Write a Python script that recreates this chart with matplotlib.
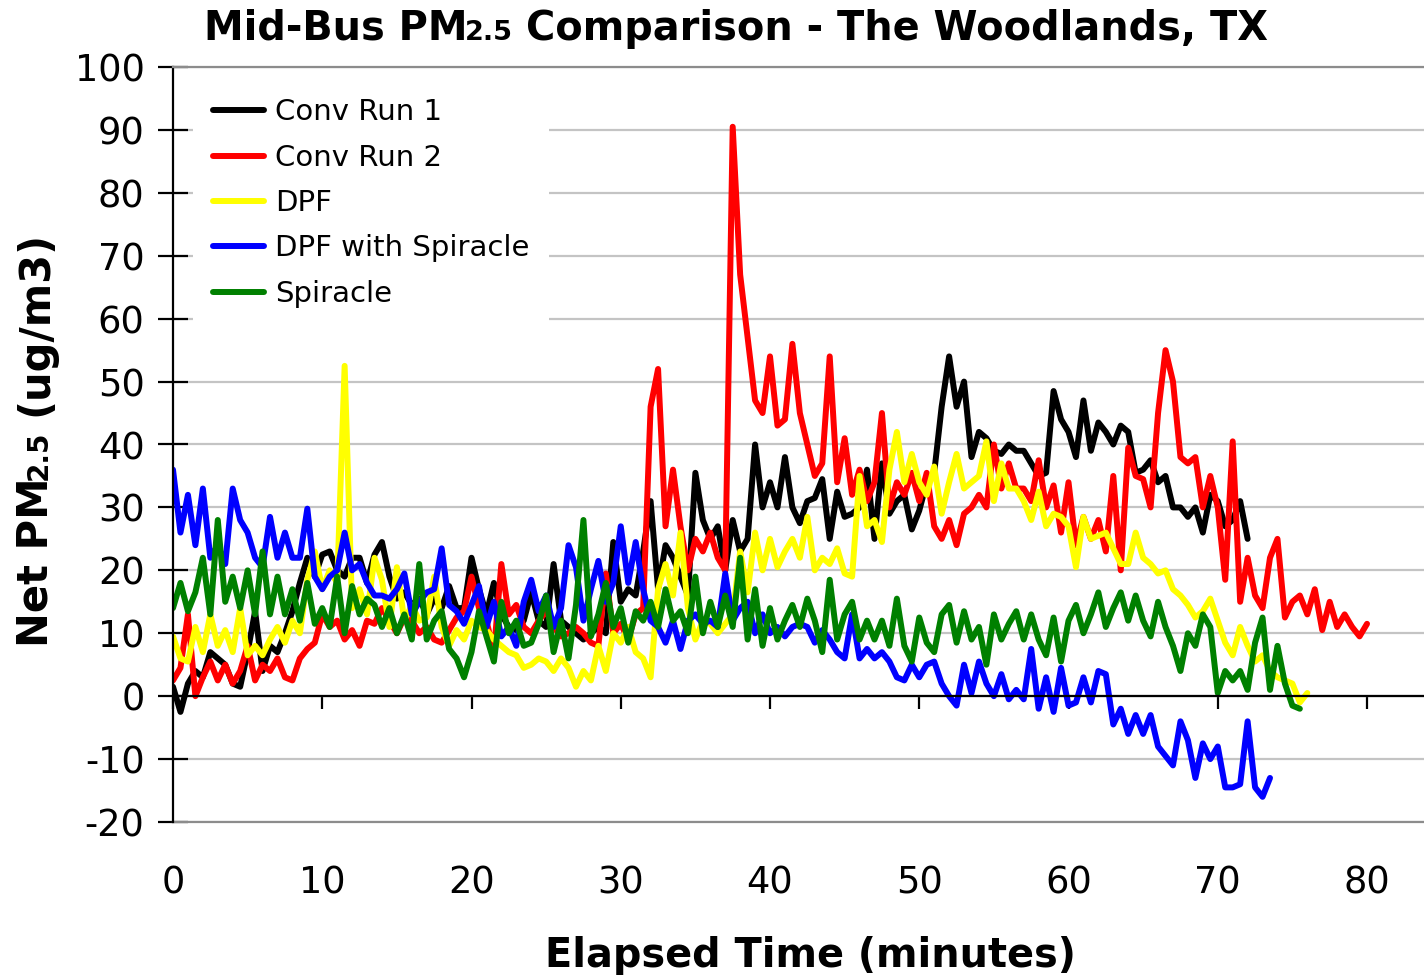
import numpy as np
import matplotlib
matplotlib.use("Agg")
import matplotlib.pyplot as plt
from matplotlib.transforms import IdentityTransform

plt.rcParams["axes.unicode_minus"] = False

# ---------------- data (sampled every 0.5 minute) ----------------
step_min = 0.5

conv_run1 = [1.5, -2.5, 2, 4, 3, 7, 6, 5, 2, 1.5, 7, 13.5, 4, 8, 7, 10, 13.5, 18, 22, 19,
             22.5, 23, 20, 19, 22, 22, 18, 22.5, 24.5, 19, 15.5, 16.5, 14.5, 15.5, 13, 15.5, 14, 17.5, 14, 14,
             22, 17, 13, 18, 13, 11, 10.5, 12, 16.5, 12, 11, 21, 12, 11, 10, 9, 10, 11, 10, 24.5,
             15, 17, 16, 23, 31, 17, 24, 22, 19, 16, 35.5, 28, 25, 27, 20, 28, 23, 25, 40, 30,
             34, 30, 38, 30, 27.5, 31, 31.5, 34.5, 25, 32.5, 28.5, 29, 30, 36, 25, 37, 29, 31, 32, 26.5,
             29.5, 34, 35.5, 46, 54, 46, 50, 38, 42, 41, 39, 38.5, 40, 39, 39, 37, 35, 35.5, 48.5, 44,
             42, 38, 47, 39, 43.5, 42, 40, 43, 42, 35.5, 36, 37.5, 34, 35, 30, 30, 28.5, 30, 26, 32,
             31, 27, 28, 31, 25]

conv_run2 = [2.5, 4.5, 13, 0, 3, 5.5, 2.5, 5, 2, 4, 8, 2.5, 5, 4, 6, 3, 2.5, 6, 7.5, 8.5,
             13, 11, 12, 9, 10.5, 8, 12, 11.5, 14, 12, 10, 12.5, 12, 10, 11, 9, 8.5, 10.5, 12.5, 13.5,
             19, 14, 12, 7, 21, 13, 14.5, 11, 10, 12, 13.5, 11, 9.5, 10, 11, 10, 8.5, 8, 19.5, 10,
             11.5, 9, 13, 14, 46, 52, 27, 36, 27, 20, 25, 23, 26, 22, 20, 90.5, 67, 57, 47, 45,
             54, 43, 44, 56, 45, 40, 35, 37, 54, 34, 41, 32, 36, 31, 34, 45, 30, 34, 32, 35.5,
             31, 35.5, 27, 25, 28, 24, 29, 30, 32, 30, 40, 33, 37, 33, 33, 31, 37.5, 30, 33.5, 26,
             34, 24, 28.5, 25, 28, 23, 35, 20, 39.5, 35, 34.5, 30, 45, 55, 50, 38, 37, 38, 30, 35,
             30, 18.5, 40.5, 15, 22, 16, 14, 22, 25, 12.5, 15, 16, 13, 17, 10.5, 15, 11, 13, 11, 9.5,
             11.5]

dpf = [9.5, 6, 5.5, 11, 7, 13, 8, 10.5, 7, 14, 6.5, 8, 6.5, 9, 11, 8.5, 12, 10, 18.5, 23,
       17, 20, 18, 52.5, 14, 17, 13, 22, 18.5, 11, 20.5, 12, 14.5, 12, 12.5, 19, 11, 8, 10.5, 9,
       12, 11, 10.5, 9, 8, 7, 6.5, 4.5, 5, 6, 5.5, 4, 6, 4.5, 1.5, 4, 2.5, 8, 4, 10,
       8.5, 11, 7, 6, 3, 17, 21, 16, 26, 14, 9, 12, 11.5, 10, 11.5, 13, 23, 16.5, 26, 20,
       25, 20.5, 23, 25, 22, 28.5, 20, 22, 21, 23.5, 19.5, 19, 35, 27, 28, 24.5, 36, 42, 34, 38.5,
       34, 32, 36.5, 29, 34, 38.5, 33, 34, 35, 40.5, 31, 37, 33, 33, 31, 28, 32.5, 27, 29, 28.5,
       27, 20.5, 28.5, 25, 25.5, 26, 23.5, 21, 21, 26, 22, 21, 19.5, 20, 17, 16, 14.5, 12.5, 13.5, 15.5,
       12, 8.5, 6.5, 11, 8, 5.5, 6.5, 4, 3, 2.5, 2, -1, 0.5]

dpf_spiracle = [36, 26, 32, 24, 33, 22, 24, 21, 33, 28, 26, 22, 20.5, 28.5, 22, 26, 22, 22, 29.8, 19,
                17, 19, 20, 26, 20, 21, 18, 16, 16, 15.5, 17, 19.5, 13, 15, 16.5, 17, 23.5, 14.5, 13.5, 11.5,
                14.5, 17.5, 11, 15, 9.5, 11, 8, 15, 18.5, 13.5, 16, 11, 14, 24, 20.5, 12, 17, 21.5, 15, 18,
                27, 18, 24.5, 17, 12, 11, 8.5, 12, 7.5, 12, 13, 11.5, 12, 11, 19.5, 12, 14, 15, 10, 13,
                10, 11, 9.5, 11, 11.5, 11, 8.5, 10.5, 9, 7, 6, 13, 6, 7.5, 6, 7, 5.5, 3, 2.5, 5,
                3, 5, 5.5, 2, 0, -1.5, 5, 0.5, 5.5, 2, 0, 3.5, -0.5, 1, -0.5, 7.5, -2, 3, -2.5, 4.5,
                -1.5, -1, 3, -1, 4, 3.5, -4.5, -2, -6, -3, -6, -3, -8, -9.5, -11, -4, -7, -13, -7.5, -10,
                -8, -14.5, -14.5, -14, -4, -14.5, -16, -13]

spiracle = [14, 18, 13.5, 16.5, 22, 13, 28, 15, 19, 14, 20, 13, 23, 13, 19, 13, 17, 12, 18, 11.5,
            14, 11, 19, 10, 17.5, 13, 15.5, 14.5, 11, 14, 10, 13, 9, 21, 9, 12, 13.5, 7.5, 6, 3,
            7, 13.5, 9.5, 5.5, 15, 10, 12, 8, 8.5, 11.5, 16, 7, 12, 6, 14.5, 28, 9.5, 13, 18, 11,
            14, 8.5, 13.5, 12, 15, 11, 17, 12, 13.5, 10, 19, 10, 15, 11, 16, 11, 22, 9, 17, 8,
            14, 9, 12, 14.5, 11, 15.5, 12, 7, 18.5, 9, 13, 15, 9, 12, 9, 12, 8, 15.5, 8, 5.5,
            12.5, 8.5, 7, 13, 14.5, 8.5, 13.5, 9, 11, 5, 13, 9, 11.5, 13.5, 9, 13, 9, 6.5, 12.5, 5.5,
            12, 14.5, 10, 13, 16.5, 11, 14, 16.5, 12, 16, 12, 9.5, 15, 11, 8, 4, 10, 8, 13, 11,
            0.5, 4, 2.5, 4, 1, 8.5, 12.5, 1, 8, 2, -1.5, -2]

series_labels = ["Conv Run 1", "Conv Run 2", "DPF", "DPF with Spiracle", "Spiracle"]
series_values = [conv_run1, conv_run2, dpf, dpf_spiracle, spiracle]
series_colors = ["#000000", "#FF0000", "#FFFF00", "#0000FF", "#008000"]

x_ticks = list(range(0, 81, 10))
y_ticks = list(range(-20, 101, 10))

title_parts = ["Mid-Bus PM", "2.5", "Comparison - The Woodlands, TX"]
ylabel_parts = ["Net PM", "2.5", "(ug/m3)"]
xlabel_text = "Elapsed Time (minutes)"

# ---------------- figure ----------------
W, H = 1424, 975
fig = plt.figure(figsize=(W / 100, H / 100), dpi=100)
fig.patch.set_facecolor("white")

ax_left, ax_right, ax_top, ax_bottom = 173, W, 67, 822
ax = fig.add_axes([ax_left / W, 1 - ax_bottom / H, (ax_right - ax_left) / W, (ax_bottom - ax_top) / H])

for lab, vals, col in zip(series_labels, series_values, series_colors):
    t = np.arange(len(vals)) * step_min
    ax.plot(t, vals, color=col, lw=4.3, label=lab,
            solid_joinstyle="round", solid_capstyle="round")

px_per_min = 14.93
ax.set_xlim(0, (W - 172.6) / px_per_min)
ax.set_ylim(-20, 100)
ax.set_xticks(x_ticks)
ax.set_yticks(y_ticks)

ax.yaxis.grid(True, color="#c4c4c4", lw=1.6)
ax.set_axisbelow(True)

ax.spines["right"].set_visible(False)
ax.spines["top"].set_color("#8c8c8c")
ax.spines["top"].set_linewidth(1.6)
ax.spines["left"].set_color("black")
ax.spines["left"].set_linewidth(1.6)
ax.spines["bottom"].set_position(("data", 0))
ax.spines["bottom"].set_color("black")
ax.spines["bottom"].set_linewidth(1.6)
ax.axhline(-20, color="#8c8c8c", lw=1.6, zorder=0.6, clip_on=False)

ax.tick_params(axis="y", direction="inout", length=21, width=1.6,
               labelsize=26.5, pad=10, colors="black")
ax.tick_params(axis="x", direction="out", length=9.4, width=1.6,
               labelsize=26.5, pad=112, colors="black")

leg = ax.legend(loc="upper left",
                bbox_to_anchor=((193 - ax_left) / (ax_right - ax_left),
                                (ax_bottom - 78) / (ax_bottom - ax_top)),
                borderaxespad=0, fontsize=21, frameon=True, fancybox=False,
                edgecolor="none", facecolor="white", framealpha=1,
                borderpad=0.7, handlelength=1.72, handletextpad=0.38,
                labelspacing=0.595)

# ---------------- composed texts (subscripted PM2.5) ----------------
renderer = fig.canvas.get_renderer()


def compose_horizontal(parts, sizes, gaps, cx, base_y):
    objs = [fig.text(0, 0, s, fontsize=sz, fontweight="bold", ha="left", va="baseline",
                     transform=IdentityTransform()) for s, sz in zip(parts, sizes)]
    widths = [o.get_window_extent(renderer).width for o in objs]
    total = sum(widths) + sum(gaps[:-1])
    x = cx - total / 2
    for o, w, g in zip(objs, widths, gaps):
        o.set_position((x, base_y))
        x += w + g


def compose_vertical(parts, sizes, gaps, base_x, cy):
    objs = [fig.text(0, 0, s, fontsize=sz, fontweight="bold", ha="left", va="baseline",
                     rotation=90, rotation_mode="anchor",
                     transform=IdentityTransform()) for s, sz in zip(parts, sizes)]
    lengths = [o.get_window_extent(renderer).height for o in objs]
    total = sum(lengths) + sum(gaps[:-1])
    y = cy - total / 2
    for o, ln, g in zip(objs, lengths, gaps):
        o.set_position((base_x, y))
        y += ln + g


compose_horizontal(title_parts, [28.7, 19.5, 28.7], [-3, 13, 0], 736, H - 40)
compose_vertical(ylabel_parts, [30, 20, 30], [-3, 14, 0], 47, H - 439)
fig.text(810, H - 967, xlabel_text, fontsize=28.7, fontweight="bold",
         ha="center", va="baseline", transform=IdentityTransform())

fig.savefig("out.png", dpi=100, facecolor="white")
